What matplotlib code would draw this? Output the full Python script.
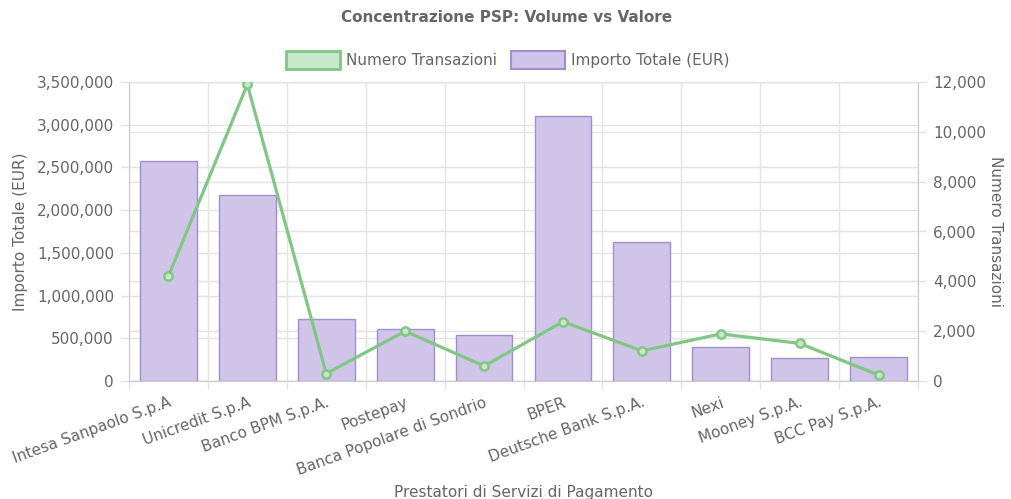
import numpy as np
import matplotlib
matplotlib.use("Agg")
import matplotlib.pyplot as plt
from matplotlib.patches import Patch
from matplotlib.ticker import FuncFormatter, MultipleLocator, FixedLocator
import matplotlib.transforms as mtransforms

categories = ["Intesa Sanpaolo S.p.A", "Unicredit S.p.A", "Banco BPM S.p.A.", "Postepay",
              "Banca Popolare di Sondrio", "BPER", "Deutsche Bank S.p.A.", "Nexi",
              "Mooney S.p.A.", "BCC Pay S.p.A."]
importo_totale = [2570000, 2180000, 720000, 603000, 533000, 3100000, 1625000, 400000, 272000, 284000]
numero_transazioni = [4210, 11900, 300, 2000, 600, 2380, 1210, 1890, 1510, 240]

TXT = "#666666"
GRID = "#e3e3e3"
SPINE = "#cccccc"
BAR_FILL = "#d1c4e9"
BAR_EDGE = "#a08fd0"
LINE = "#81c784"
LINE_FILL = "#c8e6c9"

plt.rcParams['font.family'] = ['DejaVu Sans']
fig = plt.figure(figsize=(10.11, 4.99), dpi=100)
ax = fig.add_axes([129/1011, 1-381/499, (918-129)/1011, (381-82)/499])
ax2 = ax.twinx()

x = np.arange(len(categories))
ax.bar(x, importo_totale, width=0.72, color=BAR_FILL, edgecolor=BAR_EDGE, linewidth=1.0, zorder=3)
ax2.plot(x, numero_transazioni, color=LINE, linewidth=2.3, marker='o', markersize=6,
         markerfacecolor=LINE_FILL, markeredgecolor=LINE, markeredgewidth=1.8, zorder=5)

ax.set_xlim(-0.5, len(categories) - 0.5)
ax.set_ylim(0, 3500000)
ax2.set_ylim(0, 12000)

ax.yaxis.set_major_locator(MultipleLocator(500000))
ax2.yaxis.set_major_locator(MultipleLocator(2000))
fmt = FuncFormatter(lambda v, p: f"{int(v):,}")
ax.yaxis.set_major_formatter(fmt)
ax2.yaxis.set_major_formatter(fmt)

# grids (behind bars)
ax.set_axisbelow(True)
ax.yaxis.grid(True, color=GRID, linewidth=1, zorder=0)
blend = mtransforms.blended_transform_factory(ax.transAxes, ax2.transData)
for t in ax2.get_yticks():
    if 0 <= t <= 12000:
        ax.plot([0, 1], [t, t], transform=blend, color=GRID, linewidth=1, zorder=0.5)

FS = 11
ax.set_xticks(x)
ax.set_xticklabels(categories, rotation=20, ha='right', rotation_mode='anchor')
ax.xaxis.set_minor_locator(FixedLocator(np.arange(-0.5, len(categories), 1)))
ax.xaxis.grid(True, which='minor', color=GRID, linewidth=1)
ax.tick_params(axis='x', which='major', length=0, pad=10, labelsize=FS, labelcolor=TXT)
ax.tick_params(axis='x', which='minor', length=5.8, color=GRID, width=1)
ax.tick_params(axis='y', length=5.8, color=GRID, width=1, pad=5, labelsize=FS, labelcolor=TXT)
ax2.tick_params(axis='y', length=5.8, color=GRID, width=1, pad=5, labelsize=FS, labelcolor=TXT)

for a in (ax, ax2):
    for s in a.spines.values():
        s.set_color(SPINE)
    a.spines['top'].set_color(GRID)

ax.set_ylabel("Importo Totale (EUR)", color=TXT, fontsize=FS, labelpad=6)
ax2.set_ylabel("Numero Transazioni", color=TXT, fontsize=FS, rotation=270, labelpad=12)

fig.text((129+918)/2/1011, 1-492/499, "Prestatori di Servizi di Pagamento", color=TXT,
         fontsize=FS, ha='center', va='center')
fig.text(507/1011, 1-18/499, "Concentrazione PSP: Volume vs Valore", color=TXT,
         fontsize=11, fontweight='bold', ha='center', va='center')

handles = [Patch(facecolor=LINE_FILL, edgecolor=LINE, linewidth=2),
           Patch(facecolor=BAR_FILL, edgecolor=BAR_EDGE, linewidth=1.5)]
leg = fig.legend(handles, ["Numero Transazioni", "Importo Totale (EUR)"], loc='center',
                 bbox_to_anchor=(508/1011, 1-60/499), ncol=2, frameon=False,
                 fontsize=FS, handlelength=3.5, handleheight=1.35, columnspacing=0.9,
                 handletextpad=0.45, borderpad=0.2)
for t in leg.get_texts():
    t.set_color(TXT)

fig.savefig("out.png", dpi=100)
